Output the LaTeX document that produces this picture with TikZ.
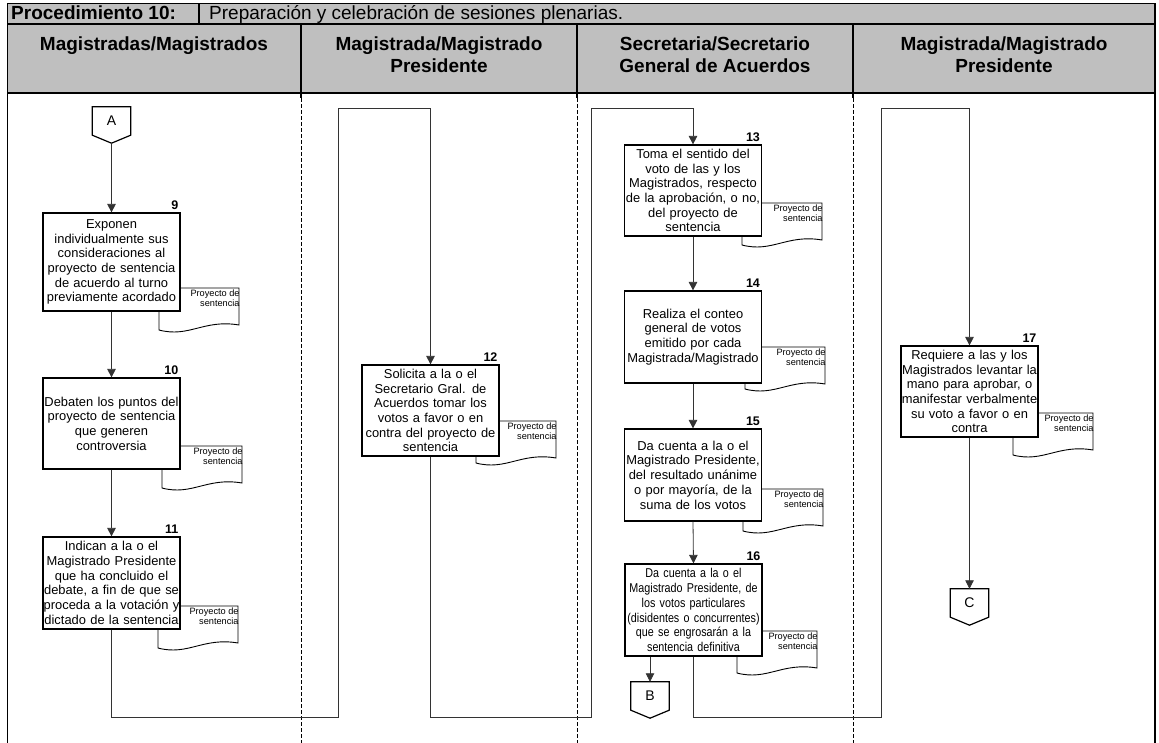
\documentclass[tikz,border=0pt]{standalone}
\usepackage{fontspec}
\setmainfont{Liberation Sans}
\newfontfamily\narrowfont[FakeStretch=0.84]{Liberation Sans}
\usetikzlibrary{arrows.meta,calc}

% document symbol: #1 name of its label, #2 left x, #3 top y
\newcommand{\docsym}[3]{%
  \begin{scope}[shift={(#2,#3)}]
    \draw[docline] (0,0) -- (80,0) -- (80,37) .. controls (45,31) and (30,50) .. (0,42) -- cycle;
    \node[doctext, anchor=north east] (#1) at (80.8,1.5) {Proyecto de\\sentencia};
  \end{scope}}

% off-page connector: #1 name, #2 centre x, #3 centre y of the square part, #4 letter
\newcommand{\offpage}[4]{%
  \node[offp] (#1) at (#2,#3) {#4};
  \draw[boxline, fill=white] (#1.north west) -- (#1.north east) -- (#1.south east)
    -- ([yshift=-8pt]#1.south) -- (#1.south west) -- cycle;
  \node[offp] at (#1) {#4};
  \coordinate (#1tip) at ([yshift=-8pt]#1.south);}

\begin{document}
\begin{tikzpicture}[x=1pt,y=-1pt,
  boxline/.style={draw=black, line width=1.2pt},
  stepbox/.style={boxline, fill=white, minimum width=137pt, text width=137pt,
    align=center, inner sep=0pt, font=\fontsize{12.9}{14.7}\selectfont},
  stepnum/.style={font=\bfseries\fontsize{12.5}{14}\selectfont, inner sep=0pt},
  docline/.style={draw=black, line width=0.9pt, fill=white},
  doctext/.style={align=right, inner sep=0pt, font=\fontsize{9.2}{10.4}\selectfont},
  offp/.style={minimum width=38pt, minimum height=28pt, inner sep=0pt,
    font=\fontsize{14}{16}\selectfont},
  flow/.style={draw=black!80, line width=0.8pt, -{Triangle[length=8.5pt,width=8.5pt]}},
  lane/.style={draw=black, line width=0.9pt, dash pattern=on 4pt off 2pt},
  frame/.style={draw=black, line width=1.2pt},
  headtxt/.style={align=center, inner sep=0pt, font=\bfseries\fontsize{19}{22}\selectfont},
]
\useasboundingbox (0,0) rectangle (1159,743);

% ---- table head ----
\fill[black!25] (7.5,3.5) rectangle (1155,93);
\draw[frame] (7.5,743) -- (7.5,3.5) -- (1155,3.5) -- (1155,743);
\draw[frame] (7.5,24) -- (1155,24);
\draw[frame] (7.5,93) -- (1155,93);
\draw[frame] (199,3.5) -- (199,24);
\foreach \lx in {301,577,853} {
  \draw[frame] (\lx,24) -- (\lx,98);
  \draw[lane] (\lx,98) -- (\lx,743);
}
\node[anchor=base west, inner sep=0pt, font=\bfseries\fontsize{19}{21}\selectfont] (ttl) at (11,19.5) {Procedimiento 10:};
\node[anchor=base west, inner sep=0pt, font=\fontsize{19}{21}\selectfont] (ttx) at (209,19.5) {Preparación y celebración de sesiones plenarias.};

\node[headtxt, anchor=north] (h1) at (154,37) {Magistradas/Magistrados};
\node[headtxt, anchor=north] (h2) at (439,37) {Magistrada/Magistrado\\Presidente};
\node[headtxt, anchor=north] (h3) at (715,37) {Secretaria/Secretario\\General de Acuerdos};
\node[headtxt, anchor=north] (h4) at (1004,37) {Magistrada/Magistrado\\Presidente};

% ---- documents (drawn first, boxes overlap them) ----
\docsym{d9}{159}{288}
\docsym{d10}{162}{446}
\docsym{d11}{158}{606}
\docsym{d12}{476}{421}
\docsym{d13}{742}{203}
\docsym{d14}{745}{347}
\docsym{d15}{743}{489}
\docsym{d16}{737}{631}
\docsym{d17}{1013}{413}

% ---- steps ----
\node[stepbox, minimum height=98pt] (b9) at (111.5,262) {Exponen\\individualmente sus\\consideraciones al\\proyecto de sentencia\\de acuerdo al turno\\previamente acordado};
\node[stepbox, minimum height=91pt] (b10) at (111.5,423.5) {Debaten los puntos del\\proyecto de sentencia\\que generen\\controversia};
\node[stepbox, minimum height=92pt] (b11) at (111.5,583) {Indican a la o el\\Magistrado Presidente\\que ha concluido el\\debate, a fin de que se\\proceda a la votación y\\dictado de la sentencia};
\node[stepbox, minimum height=91pt] (b12) at (430.5,410.5) {Solicita a la o el\\Secretario Gral. de\\Acuerdos tomar los\\votos a favor o en\\contra del proyecto de\\sentencia};
\node[stepbox, minimum height=91pt] (b13) at (693,190.5) {Toma el sentido del\\voto de las y los\\Magistrados, respecto\\de la aprobación, o no,\\del proyecto de\\sentencia};
\node[stepbox, minimum height=92pt] (b14) at (693,337) {Realiza el conteo\\general de votos\\emitido por cada\\Magistrada/Magistrado};
\node[stepbox, minimum height=92pt] (b15) at (693,475) {Da cuenta a la o el\\Magistrado Presidente,\\del resultado unánime\\o por mayoría, de la\\suma de los votos};
\node[stepbox, minimum height=92pt, font=\narrowfont\fontsize{12.8}{14.9}\selectfont] (b16) at (693.5,610) {Da cuenta a la o el\\Magistrado Presidente, de\\los votos particulares\\(disidentes o concurrentes)\\que se engrosarán a la\\sentencia definitiva};
\node[stepbox, minimum height=91pt] (b17) at (969.5,391.5) {Requiere a las y los\\Magistrados levantar la\\mano para aprobar, o\\manifestar verbalmente\\su voto a favor o en\\contra};

% ---- step numbers ----
\foreach \b/\n in {b9/9,b10/10,b11/11,b12/12,b13/13,b14/14,b15/15,b16/16,b17/17}
  \node[stepnum, anchor=base east] (n\n) at ([xshift=-2pt,yshift=3pt]\b.north east) {\n};

% ---- off-page connectors ----
\offpage{A}{111.5}{121}{A}
\offpage{B}{650}{696}{B}
\offpage{C}{969.5}{603}{C}

% ---- route points of the lane-crossing connectors ----
\coordinate (k1) at (338,717);
\coordinate (k2) at (338,108);
\coordinate (k3) at (591,717);
\coordinate (k4) at (591,108);
\coordinate (k5) at (881,717);
\coordinate (k6) at (881,108);

% ---- connectors ----
\draw[flow] (Atip) -- (b9.north);
\draw[flow] (b9.south) -- (b10.north);
\draw[flow] (b10.south) -- (b11.north);
\draw[flow] (b11.south) |- (k1) -- (k2) -| (b12.north);
\draw[flow] (b12.south) |- (k3) -- (k4) -| (b13.north);
\draw[flow] (b13.south) -- (b14.north);
\draw[flow] (b14.south) -- (b15.north);
\draw[flow] (b15.south) -- (b16.north);
\draw[flow] (b16.south -| B.north) -- (B.north);
\draw[flow] (b16.south) |- (k5) -- (k6) -| (b17.north);
\draw[flow] (b17.south) -- (C.north);
\end{tikzpicture}
\end{document}
